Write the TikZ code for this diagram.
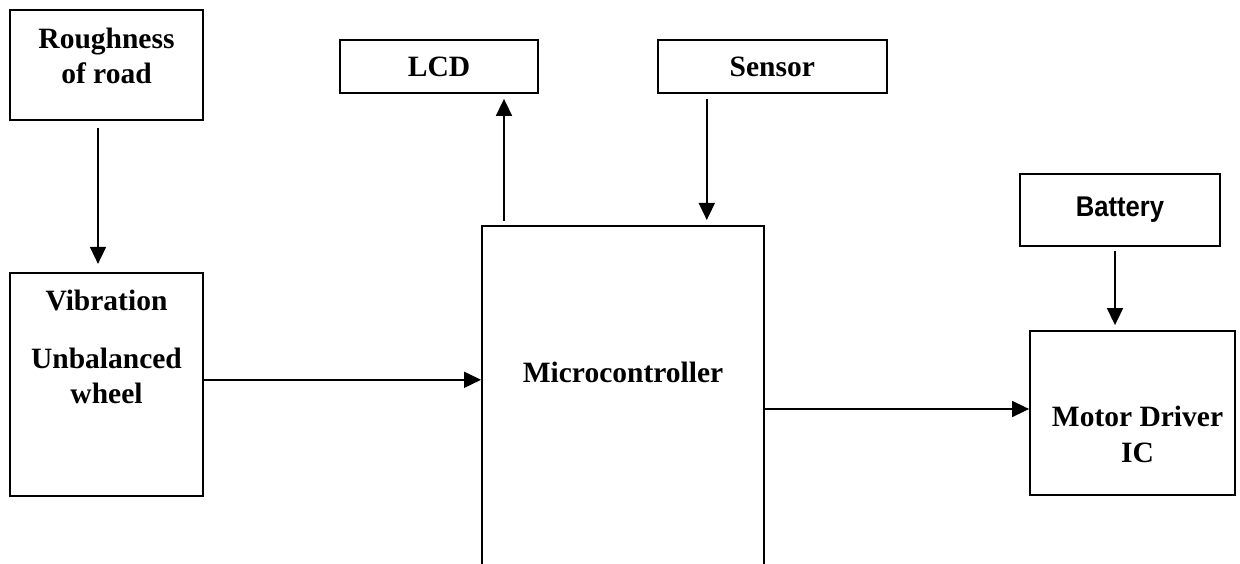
\documentclass[tikz,border=0pt]{standalone}
\usepackage{fontspec}
\setmainfont{Liberation Serif}
\newfontfamily\batteryfont[FakeStretch=0.9]{Liberation Sans}
\usetikzlibrary{arrows.meta,positioning}
\tikzstyle{block} = [rectangle, draw=black, line width=1.8pt, inner sep=0pt, align=center, font=\fontsize{29.5}{35}\selectfont\bfseries]
\tikzstyle{blocktext} = [inner sep=0pt, align=center, font=\fontsize{29.5}{35}\selectfont\bfseries]
\tikzstyle{arrow} = [line width=1.6pt, -{Triangle[length=17pt,width=16pt]}]

\begin{document}
\begin{tikzpicture}[x=1pt, y=-1pt]
\useasboundingbox (0,0) rectangle (1240,564);
\clip (0,0) rectangle (1240,564);

\node (rough) [block, minimum width=193pt, minimum height=110pt, label={[blocktext, anchor=north, yshift=-19pt]north:{Roughness\\of road}}] at (106.5,65) {};
\node (vib) [block, minimum width=193pt, minimum height=223pt, below=151pt of rough, label={[blocktext, anchor=north, yshift=-18pt]north:{Vibration\\[23pt]Unbalanced\\wheel}}] {};
\node (lcd) [block, minimum width=198pt, minimum height=53pt] at (439,66.5) {LCD};
\node (sensor) [block, minimum width=229pt, minimum height=53pt, right=118pt of lcd] {Sensor};
\node (micro) [block, minimum width=282pt, minimum height=400pt, anchor=north, label={[blocktext, anchor=north, yshift=-136.5pt]north:Microcontroller}] at (623,225) {};
\node (battery) [block, minimum width=200pt, minimum height=72pt, font=\batteryfont\fontsize{28.5}{34}\selectfont\bfseries] at (1120,210) {Battery};
\node (motor) [block, minimum width=205pt, minimum height=164pt, label={[blocktext, anchor=north, xshift=5pt, yshift=-75.5pt]north:{Motor Driver\\[1pt]IC}}] at (1132.5,413) {};

\draw[arrow, shorten <=7pt, shorten >=8pt] ([xshift=-8.5pt]rough.south) -- ([xshift=-8.5pt]vib.north);
\draw[arrow] ([yshift=4.5pt]vib.east) -- ([yshift=4.5pt]vib.east -| micro.west);
\draw[arrow, shorten <=4pt, shorten >=5pt] ([xshift=65pt]lcd.south |- micro.north) -- ([xshift=65pt]lcd.south);
\draw[arrow, shorten <=5pt, shorten >=5pt] ([xshift=-65.5pt]sensor.south) -- ([xshift=-65.5pt]sensor.south |- micro.north);
\draw[arrow] ([yshift=4pt]motor.west -| micro.east) -- ([yshift=4pt]motor.west);
\draw[arrow, shorten <=4pt, shorten >=5pt] ([xshift=-5pt]battery.south) -- ([xshift=-5pt]battery.south |- motor.north);
\end{tikzpicture}
\end{document}
